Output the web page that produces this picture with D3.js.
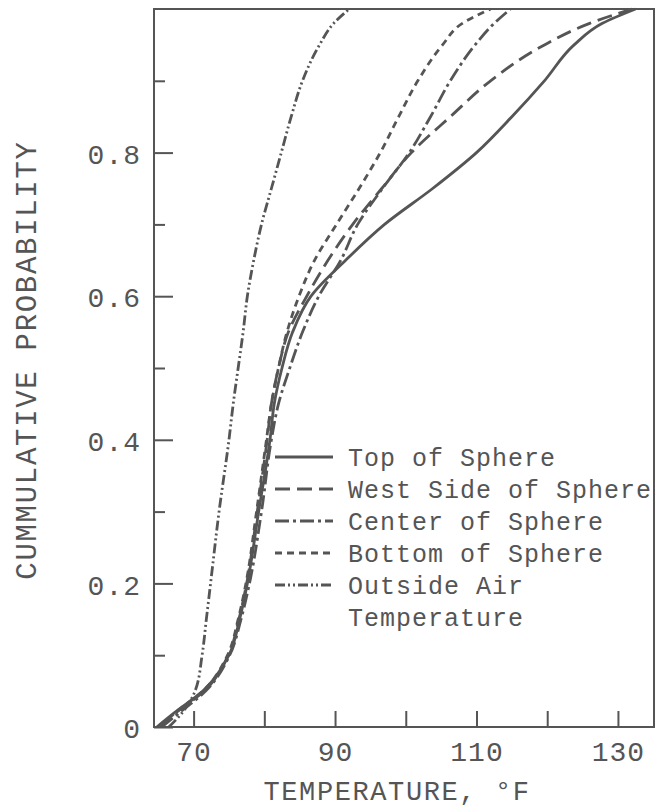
<!DOCTYPE html>
<head>
<script src="https://d3js.org/d3.v7.min.js"></script>
<meta charset="utf-8">
<style>
body { margin: 0; background: #fff; }
svg text { font-family: "Liberation Mono", "Courier New", monospace; fill: #555; }
</style>
</head>
<body>
<svg id="chart"></svg>
<script>

// cumulative probability levels, shared by every curve
var probLevels = [0, 0.02, 0.05, 0.1, 0.15, 0.2, 0.3, 0.4, 0.45, 0.5, 0.55, 0.6, 0.65, 0.7, 0.75, 0.8, 0.85, 0.9, 0.95, 0.98, 1.0];

// temperature (F) reached at each probability level
var topOfSphere  = [64.8, 67.3, 71.3, 75.0, 76.5, 77.6, 79.2, 80.8, 81.4, 82.5, 84.0, 86.6, 91.5, 97.0, 103.8, 110.0, 115.0, 119.6, 123.8, 127.8, 132.5];
var westSide     = [65.0, 67.5, 71.5, 74.9, 76.4, 77.5, 79.0, 80.4, 81.0, 82.0, 83.4, 86.0, 89.0, 92.5, 96.6, 100.8, 106.3, 112.0, 119.6, 126.0, 132.0];
var centerSphere = [65.5, 68.0, 71.7, 75.1, 76.7, 77.9, 79.6, 81.0, 82.0, 83.6, 85.4, 87.7, 90.8, 93.2, 96.7, 100.5, 103.5, 106.3, 109.8, 112.5, 114.8];
var bottomSphere = [65.2, 67.4, 71.3, 74.8, 76.3, 77.4, 78.9, 80.3, 81.0, 82.0, 83.2, 84.9, 87.1, 90.2, 93.4, 96.4, 99.0, 101.7, 105.2, 108.0, 112.0];
var outsideAir   = [66.5, 68.4, 70.2, 71.2, 71.8, 72.4, 73.6, 75.0, 75.6, 76.3, 77.0, 77.6, 78.5, 79.6, 81.0, 82.4, 83.8, 85.4, 87.8, 89.8, 92.0];

var seriesNames = ["Top of Sphere", "West Side of Sphere", "Center of Sphere", "Bottom of Sphere", "Outside Air"];
var seriesTemps = [topOfSphere, westSide, centerSphere, bottomSphere, outsideAir];

var xTicks = [70, 80, 90, 100, 110, 120, 130];
var xLabels = [70, 90, 110, 130];
var yMajor = [0, 0.2, 0.4, 0.6, 0.8];
var yMinor = [0.1, 0.3, 0.5, 0.7, 0.9];

// line styles, same order as seriesNames
var dashes = [null, "15,7", "14,4,3,4", "7,5", "10,3,2,3,2,3"];

var width = 656, height = 807;
var ink = "#555";

var svg = d3.select("#chart")
    .attr("width", width)
    .attr("height", height);

var x = d3.scaleLinear().domain([64.4, 135.1]).range([154, 654]);
var y = d3.scaleLinear().domain([0, 1.0]).range([727, 9]);

// ticks point inward
var xAxis = d3.axisBottom(x).tickValues(xTicks).tickSize(-16).tickSizeOuter(0)
    .tickFormat(d => xLabels.includes(d) ? d : "").tickPadding(14);
var gx = svg.append("g").attr("transform", "translate(0,727)").call(xAxis);

var yAxis = d3.axisLeft(y).tickValues(yMajor).tickSize(-19).tickSizeOuter(0)
    .tickFormat(d => d === 0 ? "0" : d3.format(".1f")(d)).tickPadding(13);
var gy = svg.append("g").attr("transform", "translate(154,0)").call(yAxis);

var gyMinor = svg.append("g").attr("transform", "translate(154,0)")
    .call(d3.axisLeft(y).tickValues(yMinor).tickSize(-11).tickSizeOuter(0).tickFormat(""));

[gx, gy, gyMinor].forEach(g => {
    g.select(".domain").remove();
    g.selectAll(".tick line").attr("stroke", ink).attr("stroke-width", 2);
    g.selectAll(".tick text").style("font-size", "28px").style("letter-spacing", "1px").attr("fill", ink);
});
gx.selectAll(".tick text").attr("dy", "0.71em");
gy.selectAll(".tick text").attr("dy", "0.38em");

// frame
svg.append("rect")
    .attr("x", x.range()[0]).attr("y", y.range()[1])
    .attr("width", x.range()[1] - x.range()[0])
    .attr("height", y.range()[0] - y.range()[1])
    .attr("fill", "none").attr("stroke", ink).attr("stroke-width", 2);

// curves
var line = d3.line()
    .x(d => x(d.t))
    .y(d => y(d.p))
    .curve(d3.curveMonotoneY);

seriesTemps.forEach((temps, i) => {
    let pts = temps.map((t, k) => ({ t: t, p: probLevels[k] }));
    svg.append("path")
        .datum(pts)
        .attr("d", line)
        .attr("fill", "none")
        .attr("stroke", ink)
        .attr("stroke-width", 2.8)
        .attr("stroke-dasharray", dashes[i]);
});

// legend
var legend = svg.append("g");
seriesNames.forEach((name, i) => {
    let ly = 457 + i * 32;
    legend.append("line")
        .attr("x1", 275).attr("x2", 333)
        .attr("y1", ly).attr("y2", ly)
        .attr("stroke", ink).attr("stroke-width", 3)
        .attr("stroke-dasharray", dashes[i]);
    legend.append("text")
        .attr("x", 348).attr("y", ly)
        .attr("dy", "0.35em")
        .style("font-size", "25px")
        .style("letter-spacing", "1px")
        .text(name);
});
legend.append("text")
    .attr("x", 348).attr("y", 457 + 5 * 32)
    .attr("dy", "0.35em")
    .style("font-size", "25px")
    .style("letter-spacing", "1px")
    .text("Temperature");

// axis titles
svg.append("text")
    .attr("x", 397).attr("y", 800)
    .attr("text-anchor", "middle")
    .style("font-size", "27px")
    .style("letter-spacing", "1.6px")
    .text("TEMPERATURE, °F");

svg.append("text")
    .attr("transform", "translate(36,360) rotate(-90)")
    .attr("text-anchor", "middle")
    .style("font-size", "29px")
    .style("letter-spacing", "1.7px")
    .text("CUMMULATIVE PROBABILITY");

</script>
</body>
